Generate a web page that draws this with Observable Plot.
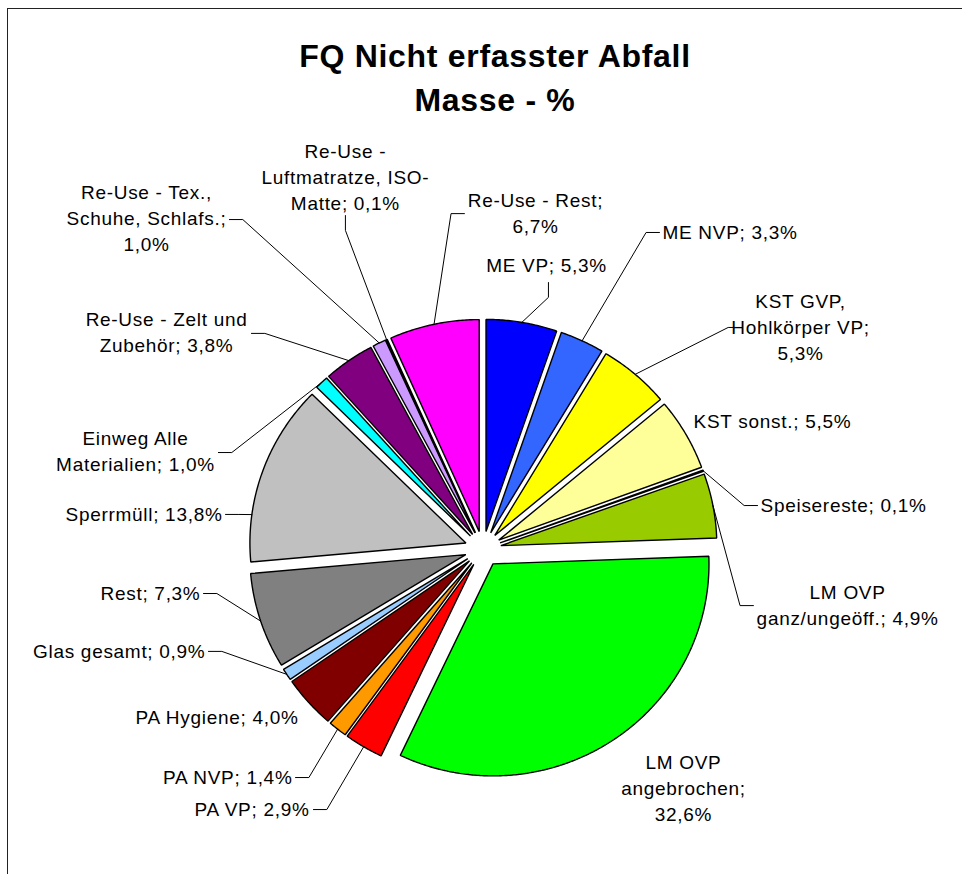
<!DOCTYPE html>
<html><head><meta charset="utf-8">
<script src="https://cdn.jsdelivr.net/npm/d3@7"></script>
<script src="https://cdn.jsdelivr.net/npm/@observablehq/plot@0.6"></script>
<style>
html,body{margin:0;padding:0;background:#fff;}
#wrap{position:relative;width:962px;height:874px;overflow:hidden;background:#fff;}
#wrap svg{position:absolute;left:0;top:0;}
#frame{position:absolute;left:7px;top:8px;right:-10px;bottom:-10px;border-top:1.5px solid #222;border-left:1.5px solid #222;pointer-events:none;}
svg text{letter-spacing:0.7px;}
</style></head><body>
<div id="wrap"><div id="frame"></div></div>
<script>
// ---- data ----
const title = "FQ Nicht erfasster Abfall\nMasse - %";
const categories = [
  "ME VP", "ME NVP", "KST GVP, Hohlkörper VP", "KST sonst.", "Speisereste",
  "LM OVP ganz/ungeöff.", "LM OVP angebrochen", "PA VP", "PA NVP", "PA Hygiene",
  "Glas gesamt", "Rest", "Sperrmüll", "Einweg Alle Materialien",
  "Re-Use - Zelt und Zubehör", "Re-Use - Tex., Schuhe, Schlafs.",
  "Re-Use - Luftmatratze, ISO-Matte", "Re-Use - Rest"
];
const values = [5.3, 3.3, 5.3, 5.5, 0.1, 4.9, 32.6, 2.9, 1.4, 4.0, 0.9, 7.3, 13.8, 1.0, 3.8, 1.0, 0.1, 6.7];
const colors = [
  "#0000FF", "#3366FF", "#FFFF00", "#FFFF99", "#999933",
  "#99CC00", "#00FF00", "#FF0000", "#FF9900", "#800000",
  "#99CCFF", "#808080", "#C0C0C0", "#00FFFF",
  "#800080", "#CC99FF", "#CC00CC", "#FF00FF"
];
const labels = [
  "ME VP; 5,3%", "ME NVP; 3,3%", "KST GVP,\nHohlkörper VP;\n5,3%", "KST sonst.; 5,5%", "Speisereste; 0,1%",
  "LM OVP\nganz/ungeöff.; 4,9%", "LM OVP\nangebrochen;\n32,6%", "PA VP; 2,9%", "PA NVP; 1,4%", "PA Hygiene; 4,0%",
  "Glas gesamt; 0,9%", "Rest; 7,3%", "Sperrmüll; 13,8%", "Einweg Alle\nMaterialien; 1,0%",
  "Re-Use - Zelt und\nZubehör; 3,8%", "Re-Use - Tex.,\nSchuhe, Schlafs.;\n1,0%",
  "Re-Use -\nLuftmatratze, ISO-\nMatte; 0,1%", "Re-Use - Rest;\n6,7%"
];

// ---- layout (in pie-radius units, relative to the pie centre) ----
const labelPos = [
  [0.294, 1.337], [0.831, 1.493], [1.470, 1.045], [0.975, 0.601], [1.285, 0.205],
  [1.688, -0.267], [0.928, -1.130], [-0.803, -1.229], [-0.882, -1.078], [-0.854, -0.795],
  [-1.285, -0.483], [-1.308, -0.210], [-1.206, 0.163], [-1.609, 0.460],
  [-1.465, 1.021], [-1.558, 1.559], [-0.637, 1.752], [0.243, 1.582]
];
const labelAnchor = [
  "middle", "start", "middle", "start", "start",
  "middle", "middle", "end", "end", "end",
  "end", "end", "end", "middle",
  "middle", "middle", "middle", "middle"
];
// leader attach point at the label and the side the stub leaves from
const leaderAttach = [
  [0.303, 1.257, "b"], [0.817, 1.493, "l"], [1.197, 1.045, "l"], null, [1.271, 0.205, "l"],
  [1.252, -0.267, "l"], null, [-0.785, -1.229, "r"], [-0.868, -1.078, "r"], null,
  [-1.271, -0.483, "r"], [-1.294, -0.210, "r"], [-1.192, 0.163, "r"], [-1.225, 0.455, "r"],
  [-1.072, 1.017, "r"], [-1.174, 1.554, "r"], [-0.637, 1.573, "b"], [-0.086, 1.582, "l"]
];
const leaderAngle = [null, null, null, null, null, null, null, null, null, null, null, null, 277.7, null, null, null, null, null];
const explode = 0.084;
const stubX = 0.062, stubY = 0.07;

// ---- geometry from the values ----
const arcs = d3.pie().sort(null).value(d => d)(values);
const slicePts = [];
arcs.forEach((p, i) => {
  const m = (p.startAngle + p.endAngle) / 2;
  const ox = explode * Math.sin(m), oy = explode * Math.cos(m);
  slicePts.push({i, x: ox, y: oy, color: colors[i]});
  const n = Math.max(2, Math.ceil((p.endAngle - p.startAngle) / (Math.PI / 360)));
  for (let k = 0; k <= n; k++) {
    const a = p.startAngle + (p.endAngle - p.startAngle) * k / n;
    slicePts.push({i, x: ox + Math.sin(a), y: oy + Math.cos(a), color: colors[i]});
  }
});

const leaderPts = [];
arcs.forEach((p, i) => {
  const L = leaderAttach[i];
  if (!L) return;
  const mid = (p.startAngle + p.endAngle) / 2;
  const a = leaderAngle[i] != null ? leaderAngle[i] * Math.PI / 180 : mid;
  const ox = explode * Math.sin(mid), oy = explode * Math.cos(mid);
  const [ax, ay, side] = L;
  const e = side === "l" ? [ax - stubX, ay] : side === "r" ? [ax + stubX, ay] : [ax, ay - stubY];
  leaderPts.push({i, x: ox + Math.sin(a), y: oy + Math.cos(a)}, {i, x: e[0], y: e[1]}, {i, x: ax, y: ay});
});

const labelRows = labels.map((t, i) => ({text: t, x: labelPos[i][0], y: labelPos[i][1], anchor: labelAnchor[i], cat: categories[i]}));

const font = "'Liberation Sans', Arial, Helvetica, sans-serif";
const chart = Plot.plot({
  width: 962, height: 874, margin: 0,
  x: {domain: [-1, 1], range: [266.5, 698.5], axis: null},
  y: {domain: [-1, 1], range: [760.5, 336.5], axis: null},
  color: {type: "identity"},
  style: {fontFamily: font, background: "white"},
  marks: [
    Plot.line(slicePts, {x: "x", y: "y", z: "i", fill: "color", stroke: "black", strokeWidth: 1.4, curve: "linear-closed", strokeLinejoin: "miter"}),
    Plot.line(leaderPts, {x: "x", y: "y", z: "i", stroke: "black", strokeWidth: 1}),
    ...["start", "middle", "end"].map(a => Plot.text(labelRows.filter(d => d.anchor === a), {
      x: "x", y: "y", text: "text", textAnchor: a, lineAnchor: "middle", lineHeight: 1.39,
      fontSize: 19, fontFamily: font, fill: "black", dy: -2
    })),
    Plot.text([title], {frameAnchor: "top", dx: 13.5, dy: 74, lineAnchor: "middle", lineHeight: 1.375,
      fontSize: 32, fontWeight: "bold", fontFamily: font, fill: "black"})
  ]
});
document.getElementById("wrap").prepend(chart);
</script>
</body></html>
